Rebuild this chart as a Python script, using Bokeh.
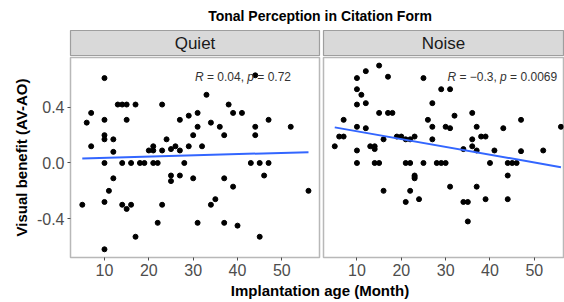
from bokeh.plotting import figure
from bokeh.models import Range1d, FixedTicker, NumeralTickFormatter, Div
from bokeh.layouts import column, row
from bokeh.core.properties import value
from bokeh.embed import file_html
from bokeh.resources import INLINE

# ---------------- data ----------------
title = "Tonal Perception in Citation Form"
panels = ["Quiet", "Noise"]
x_title = "Implantation age (Month)"
y_title = "Visual benefit (AV-AO)"
x_ticks = [10, 20, 30, 40, 50]
y_ticks = [-0.4, 0.0, 0.4]

quiet_x = [10, 6, 7, 7, 10, 10, 10, 10, 12, 12, 13, 14, 15, 15, 14, 16, 17, 18, 19, 20,
           21, 21, 21, 22, 23, 23, 24, 25, 26, 27, 27, 28, 29, 29, 30, 31, 31, 32, 33, 34,
           36, 37, 38, 39, 41, 44, 44, 43, 45, 47, 47, 52, 44,
           12, 11, 5, 10, 14, 15, 16, 17, 10, 22, 23, 25, 25, 27, 30, 31, 34, 35, 37, 37,
           39, 40, 45, 46, 56]
quiet_y = [0.61, 0.29, 0.36, 0.12, 0.31, 0.20, 0.17, 0.0, 0.17, 0.08, 0.42, 0.42, 0.42, 0.31, 0.0, 0.0, 0.42, 0.0, 0.0, 0.09,
           0.12, 0.09, 0.0, 0.0, 0.42, 0.09, 0.17, 0.10, 0.12, 0.31, 0.09, 0.0, 0.12, 0.34, 0.20, 0.36, 0.26, 0.12, 0.49, 0.29,
           0.26, 0.20, 0.42, 0.36, 0.36, 0.26, 0.20, 0.0, 0.0, 0.31, 0.0, 0.26, 0.63,
           -0.11, -0.20, -0.30, -0.28, -0.30, -0.33, -0.30, -0.53, -0.62, -0.43, -0.30, -0.09, -0.13, -0.09, -0.11, -0.43, -0.30, -0.26, -0.11, -0.43,
           -0.17, -0.45, -0.53, -0.09, -0.20]

noise_x = [15, 12, 10, 17, 25, 10, 11, 29, 31, 10, 12, 27, 15, 17, 18, 7, 26, 32, 36, 47,
           56, 10, 12, 27, 30, 31, 37, 43, 6, 7, 19, 20, 23, 38, 39, 16, 21, 22, 27, 36,
           5, 13, 14, 14, 36, 34, 37, 10, 41, 47, 52,
           10, 14, 15, 21, 22, 25, 28, 29, 30, 40, 44, 45, 46,
           23, 23, 23, 44, 16, 22, 31, 37, 21, 24, 34, 35, 39, 44, 35]
noise_y = [0.70, 0.66, 0.61, 0.62, 0.61, 0.53, 0.49, 0.53, 0.53, 0.42, 0.43, 0.43, 0.36, 0.36, 0.36, 0.31, 0.31, 0.34, 0.36, 0.31,
           0.26, 0.26, 0.25, 0.26, 0.26, 0.25, 0.26, 0.25, 0.19, 0.19, 0.19, 0.19, 0.19, 0.19, 0.19, 0.17, 0.17, 0.17, 0.17, 0.17,
           0.12, 0.12, 0.12, 0.10, 0.12, 0.10, 0.09, 0.09, 0.09, 0.085, 0.09,
           0.0, 0.0, 0.0, 0.0, 0.0, 0.0, 0.0, 0.0, 0.0, 0.0, 0.0, 0.0, 0.0,
           -0.09, -0.10, -0.11, -0.09, -0.20, -0.20, -0.17, -0.17, -0.28, -0.26, -0.28, -0.28, -0.26, -0.26, -0.42]

# fitted regression lines
fit_x = [5, 56]
quiet_fit_y = [0.033, 0.078]
noise_fit_y = [0.256, -0.03]

# correlation labels
stat_r = ["0.04", "\u22120.3"]
stat_p = ["0.72", "0.0069"]
label_x = 30.4
label_y = 0.62

# ---------------- style ----------------
FONT = "Liberation Sans"
GREY_TXT = "#4d4d4d"
BORDER = "#b8b8b8"
NB = "\u00a0"

y_range = Range1d(-0.679, 0.758)


def char_w(s, size):
    w = {" ": .278, NB: .278, "=": .584, "\u2212": .584, ".": .278, ",": .278, "R": .722, "p": .556}
    return sum(w.get(c, .556) for c in s) * size


def make_panel(idx, xs, ys, fit_y, frame_w, border_l, border_r, x_start, show_y):
    p = figure(width=border_l + frame_w + border_r, height=227,
               x_range=Range1d(x_start, x_start + frame_w / 4.435), y_range=y_range,
               output_backend="svg", toolbar_location=None,
               min_border_left=border_l, min_border_right=border_r,
               min_border_top=1, min_border_bottom=26)
    p.grid.visible = False
    p.background_fill_color = "white"
    p.outline_line_color = BORDER
    p.outline_line_width = 1.5

    xa = p.xaxis[0]
    xa.ticker = FixedTicker(ticks=x_ticks)
    xa.axis_line_color = None
    xa.major_tick_line_color = GREY_TXT
    xa.major_tick_out = 3
    xa.major_tick_in = 0
    xa.minor_tick_line_color = None
    xa.major_label_text_font = FONT
    xa.major_label_text_font_size = "16px"
    xa.major_label_text_color = GREY_TXT
    xa.major_label_standoff = 3

    ya = p.yaxis[0]
    if show_y:
        ya.ticker = FixedTicker(ticks=y_ticks)
        ya.formatter = NumeralTickFormatter(format="0.0")
        ya.axis_line_color = None
        ya.major_tick_line_color = GREY_TXT
        ya.major_tick_out = 3
        ya.major_tick_in = 0
        ya.minor_tick_line_color = None
        ya.major_label_text_font = FONT
        ya.major_label_text_font_size = "16px"
        ya.major_label_text_color = GREY_TXT
        ya.major_label_standoff = 3
        ya.axis_label = y_title
        ya.axis_label_text_font = FONT
        ya.axis_label_text_font_size = "15px"
        ya.axis_label_text_font_style = "bold"
        ya.axis_label_text_color = "black"
        ya.axis_label_standoff = 4
    else:
        ya.visible = False

    p.scatter(xs, ys, size=5, color="black")
    p.line(fit_x, fit_y, line_color="#3366FF", line_width=2)

    # correlation label pieces: italic R, text, italic p, text
    r_txt = NB + "=" + NB + stat_r[idx] + "," + NB
    p_txt = NB + "=" + NB + stat_p[idx]
    pieces = [("R", "italic"), (r_txt, "normal"), ("p", "italic"), (p_txt, "normal")]
    off = 0.0
    for txt, style in pieces:
        p.text(x=[label_x], y=[label_y], text=[txt], x_offset=off,
               text_font=value(FONT), text_font_size="12px", text_font_style=style,
               text_color="#333333", text_align="left", text_baseline="middle")
        off += char_w(txt, 12)
    return p


def make_strip(name, frame_w, border_l, border_r):
    s = figure(width=border_l + frame_w + border_r, height=27,
               x_range=[name], y_range=Range1d(-1, 1),
               output_backend="svg", toolbar_location=None,
               min_border_left=border_l, min_border_right=border_r,
               min_border_top=1, min_border_bottom=0,
               x_axis_location=None, y_axis_location=None)
    s.grid.visible = False
    s.background_fill_color = "#d9d9d9"
    s.outline_line_color = "#9e9e9e"
    s.outline_line_width = 1.2
    s.text(x=[name], y=[0], text=[name], text_font=value(FONT), text_font_size="17px",
           text_color="#1a1a1a", text_align="center", text_baseline="middle")
    return s


p1 = make_panel(0, quiet_x, quiet_y, quiet_fit_y, 249, 70, 2, 2.34, True)
p2 = make_panel(1, noise_x, noise_y, noise_fit_y, 240, 2, 1, 2.46, False)
s1 = make_strip(panels[0], 249, 70, 2)
s2 = make_strip(panels[1], 240, 2, 1)

title_div = Div(text=f'<div style="width:500px;margin-left:70px;text-align:center;'
                     f'font-family:\'{FONT}\';font-weight:bold;font-size:14px;line-height:17px;'
                     f'padding-top:8px;color:black;white-space:nowrap;">{title}</div>',
                width=564, height=29, margin=0)
xlab_div = Div(text=f'<div style="width:500px;margin-left:70px;text-align:center;'
                    f'font-family:\'{FONT}\';font-weight:bold;font-size:15px;line-height:15px;'
                    f'color:black;white-space:nowrap;">{x_title}</div>',
               width=564, height=18, margin=0)

layout = column(title_div, row(column(s1, p1), column(s2, p2)), xlab_div)

open("out.html", "w").write(file_html(layout, INLINE))
